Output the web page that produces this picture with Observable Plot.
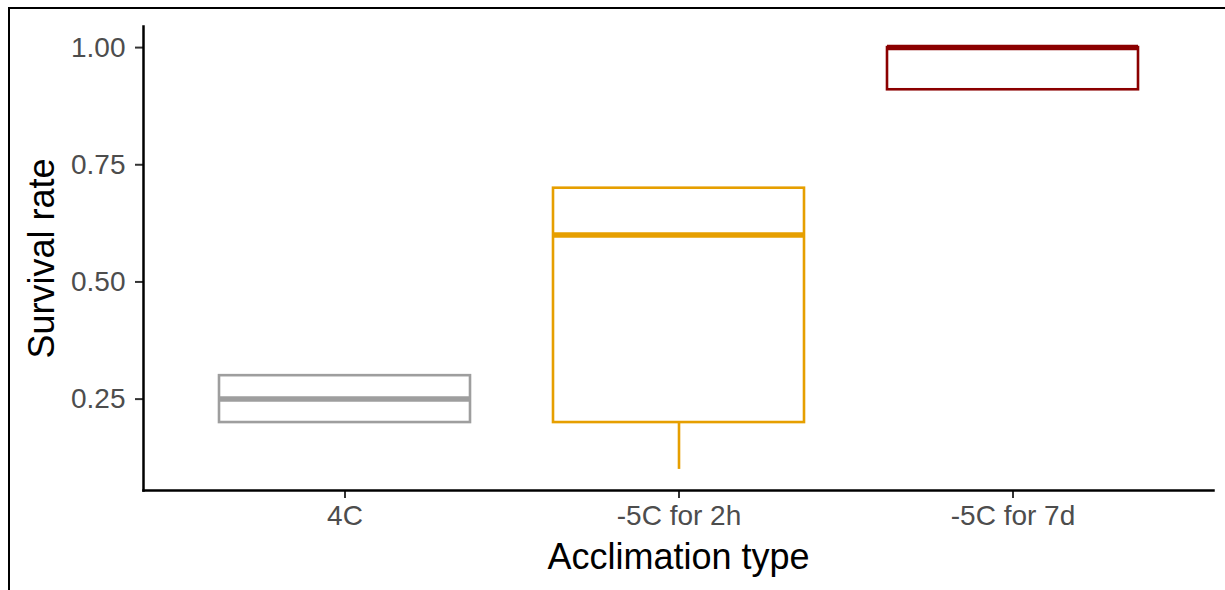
<!DOCTYPE html>
<html>
<head>
<meta charset="utf-8">
<script src="https://cdn.jsdelivr.net/npm/d3@7"></script>
<script src="https://cdn.jsdelivr.net/npm/@observablehq/plot@0.6"></script>
<style>
  html, body { margin: 0; padding: 0; background: white; }
  #wrap { position: relative; width: 1225px; height: 590px; overflow: hidden; }
  #chart { position: absolute; left: 0; top: 0; }
  #border { position: absolute; left: 8px; top: 7px; width: 1230px; height: 600px;
            border-top: 2px solid #000; border-left: 2px solid #000; pointer-events: none; z-index: 2; }
</style>
</head>
<body>
<div id="wrap"><div id="chart"></div><div id="border"></div></div>
<script>
const categories = ["4C", "-5C for 2h", "-5C for 7d"];
const q1 = [0.2, 0.2, 0.91];
const medians = [0.25, 0.6, 1.0];
const q3 = [0.3, 0.7, 1.0];
const whiskerLow = [0.2, 0.1, 0.91];
const whiskerHigh = [0.3, 0.7, 1.0];
const colors = ["#9E9E9E", "#E69F00", "#8B0000"];
const yTicks = [0.25, 0.5, 0.75, 1.0];

const data = categories.map((c, i) => ({
  cat: c, q1: q1[i], med: medians[i], q3: q3[i], lo: whiskerLow[i], hi: whiskerHigh[i], color: colors[i]
}));

const font = "'Liberation Sans', Arial, Helvetica, sans-serif";

const chart = Plot.plot({
  width: 1225,
  height: 590,
  marginLeft: 143,
  marginRight: 12,
  marginTop: 26,
  marginBottom: 100,
  style: { fontFamily: font, background: "transparent" },
  x: { domain: categories, paddingInner: 0.25, paddingOuter: 0.225, align: 0.5 },
  y: { domain: [0.055, 1.045] },
  marks: [
    Plot.ruleX(data, { x: "cat", y1: "lo", y2: "q1", stroke: "color", strokeWidth: 2.6 }),
    Plot.ruleX(data, { x: "cat", y1: "q3", y2: "hi", stroke: "color", strokeWidth: 2.6 }),
    Plot.barY(data, { x: "cat", y1: "q1", y2: "q3", fill: "white", stroke: "color", strokeWidth: 2.6 }),
    Plot.tickY(data, { x: "cat", y: "med", stroke: "color", strokeWidth: 5.5 }),
    Plot.axisY({
      ticks: yTicks, tickFormat: d3.format(".2f"), tickSize: 8, tickPadding: 10,
      fontSize: 28, color: "#4D4D4D", stroke: "#333", strokeWidth: 2,
      label: "Survival rate", labelAnchor: "center", labelArrow: "none", labelOffset: 115
    }),
    Plot.axisX({
      tickSize: 8, tickPadding: 7, fontSize: 28, color: "#4D4D4D", stroke: "#333", strokeWidth: 2,
      label: "Acclimation type", labelAnchor: "center", labelArrow: "none", labelOffset: 78
    }),
    Plot.frame({ anchor: "left", stroke: "#000", strokeWidth: 2.5 }),
    Plot.frame({ anchor: "bottom", stroke: "#000", strokeWidth: 2.5 })
  ]
});
document.getElementById("chart").appendChild(chart);
chart.querySelectorAll("g[aria-label='y-axis label'] text, g[aria-label='x-axis label'] text").forEach(t => {
  t.setAttribute("font-size", 36); t.style.fill = "#000"; t.setAttribute("fill", "#000");
});
chart.querySelectorAll("g[aria-label='y-axis label'], g[aria-label='x-axis label']").forEach(g => {
  g.setAttribute("font-size", 36); g.setAttribute("fill", "#000");
});
</script>
</body>
</html>
